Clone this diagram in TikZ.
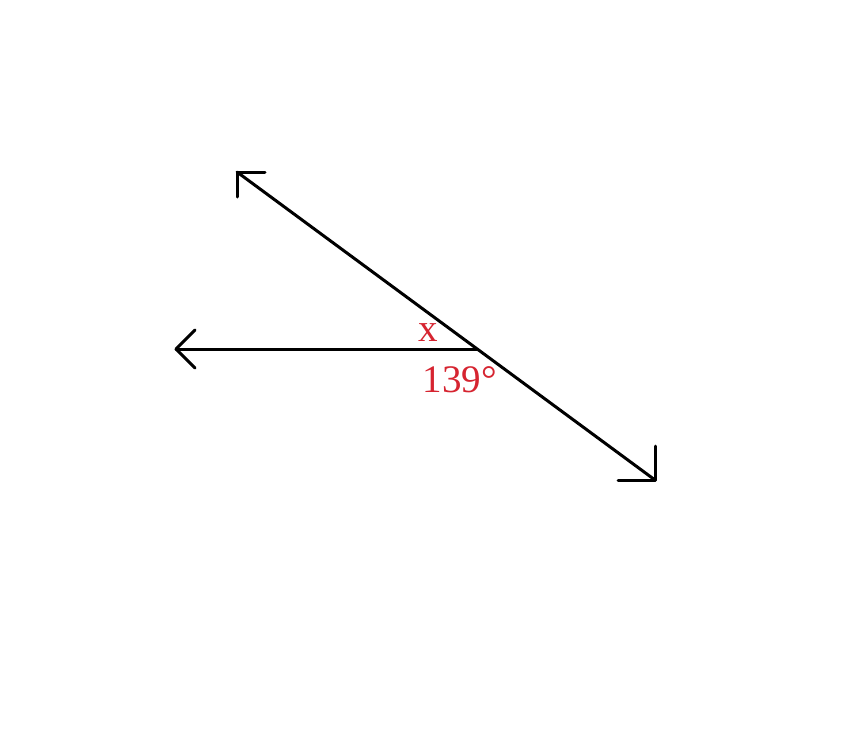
\documentclass[tikz,border=0pt]{standalone}
\usepackage{fontspec}
\setmainfont{Liberation Serif}
\definecolor{lblred}{RGB}{214,36,48}
\begin{document}
\begin{tikzpicture}[x=1pt,y=-1pt,
  ray/.style={line width=3pt,line cap=round,line join=round},
  lbl/.style={text=lblred,inner sep=0pt,font=\fontsize{39}{39}\selectfont}]
\useasboundingbox[fill=white] (0,0) rectangle (868,744);
\coordinate (A) at (237,172);
\coordinate (B) at (655,480);
\coordinate (L) at (176,349);
\coordinate (V) at (478,349);
\draw[ray] (A) -- (B);
\draw[ray] (L) -- (V);
\draw[ray] (265,172) -- (A) -- (237,197);
\draw[ray] (195,330) -- (L) -- (195,368);
\draw[ray] (618,480) -- (B) -- (655,446);
\node[lbl,anchor=base] (x) at (428,341) {x};
\node[lbl,anchor=base] (ang) at (460,392) {139°};
\end{tikzpicture}
\end{document}
